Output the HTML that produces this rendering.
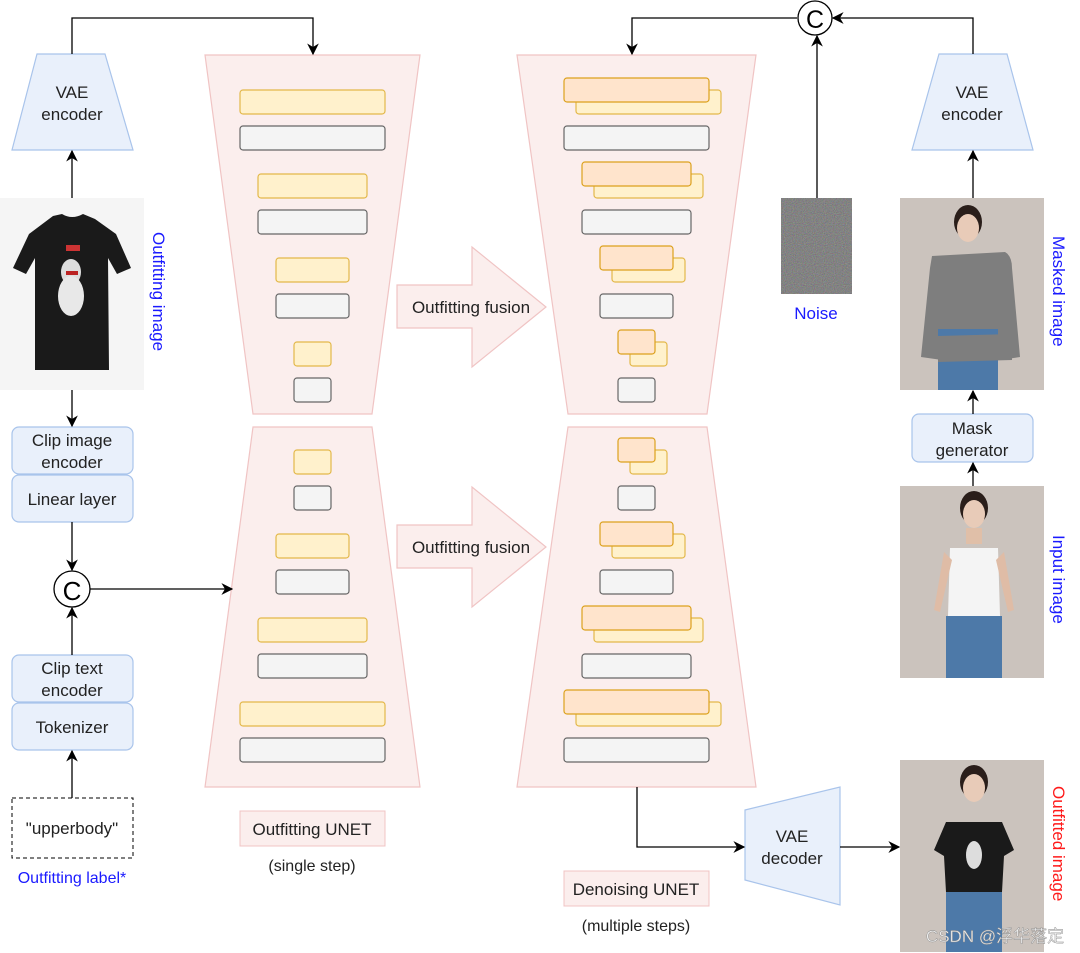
<!DOCTYPE html>
<html><head><meta charset="utf-8"><style>
html,body{margin:0;padding:0;background:#fff}
svg{display:block}
text{font-family:"Liberation Sans","Noto Sans CJK SC",sans-serif}
</style></head><body>
<svg width="1080" height="953" viewBox="0 0 1080 953" xmlns="http://www.w3.org/2000/svg">
<defs>
<marker id="a" viewBox="0 0 10 10" refX="9" refY="5" markerWidth="9" markerHeight="9" orient="auto-start-reverse"><path d="M0,0 L10,5 L0,10 L3,5z" fill="#000"/></marker>
<filter id="n" x="0" y="0" width="1" height="1" color-interpolation-filters="sRGB"><feTurbulence type="fractalNoise" baseFrequency="0.9" numOctaves="2"/><feColorMatrix values="0.3 0 0 0 0.36 0 0.3 0 0 0.36 0 0 0.3 0 0.36 0 0 0 0 1"/></filter>
</defs>
<g fill="#fbeeed" stroke="#f0c4c4" stroke-width="1.2">
<path d="M205,55 L420,55 L372,414 L253,414 Z"/>
<path d="M253,427 L372,427 L420,787 L205,787 Z"/>
<path d="M517,55 L756,55 L707,414 L568,414 Z"/>
<path d="M568,427 L707,427 L756,787 L517,787 Z"/>
</g>
<g stroke-width="1.2">
<g fill="#fff1cc" stroke="#e3b84a">
<rect x="240" y="90" width="145" height="24" rx="3"/><rect x="258" y="174" width="109" height="24" rx="3"/>
<rect x="276" y="258" width="73" height="24" rx="3"/><rect x="294" y="342" width="37" height="24" rx="3"/>
<rect x="294" y="450" width="37" height="24" rx="3"/><rect x="276" y="534" width="73" height="24" rx="3"/>
<rect x="258" y="618" width="109" height="24" rx="3"/><rect x="240" y="702" width="145" height="24" rx="3"/>
<rect x="576" y="90" width="145" height="24" rx="3"/><rect x="594" y="174" width="109" height="24" rx="3"/>
<rect x="612" y="258" width="73" height="24" rx="3"/><rect x="630" y="342" width="37" height="24" rx="3"/>
<rect x="630" y="450" width="37" height="24" rx="3"/><rect x="612" y="534" width="73" height="24" rx="3"/>
<rect x="594" y="618" width="109" height="24" rx="3"/><rect x="576" y="702" width="145" height="24" rx="3"/>
</g>
<g fill="#ffe4cc" stroke="#dca11d">
<rect x="564" y="78" width="145" height="24" rx="3"/><rect x="582" y="162" width="109" height="24" rx="3"/>
<rect x="600" y="246" width="73" height="24" rx="3"/><rect x="618" y="330" width="37" height="24" rx="3"/>
<rect x="618" y="438" width="37" height="24" rx="3"/><rect x="600" y="522" width="73" height="24" rx="3"/>
<rect x="582" y="606" width="109" height="24" rx="3"/><rect x="564" y="690" width="145" height="24" rx="3"/>
</g>
<g fill="#f4f4f4" stroke="#666">
<rect x="240" y="126" width="145" height="24" rx="3"/><rect x="258" y="210" width="109" height="24" rx="3"/>
<rect x="276" y="294" width="73" height="24" rx="3"/><rect x="294" y="378" width="37" height="24" rx="3"/>
<rect x="294" y="486" width="37" height="24" rx="3"/><rect x="276" y="570" width="73" height="24" rx="3"/>
<rect x="258" y="654" width="109" height="24" rx="3"/><rect x="240" y="738" width="145" height="24" rx="3"/>
<rect x="564" y="126" width="145" height="24" rx="3"/><rect x="582" y="210" width="109" height="24" rx="3"/>
<rect x="600" y="294" width="73" height="24" rx="3"/><rect x="618" y="378" width="37" height="24" rx="3"/>
<rect x="618" y="486" width="37" height="24" rx="3"/><rect x="600" y="570" width="73" height="24" rx="3"/>
<rect x="582" y="654" width="109" height="24" rx="3"/><rect x="564" y="738" width="145" height="24" rx="3"/>
</g>
</g>
<g fill="#fbeeed" stroke="#f0c4c4" stroke-width="1.2">
<path d="M397,285 L472,285 L472,247 L546,307 L472,367 L472,328 L397,328 Z"/>
<path d="M397,525 L472,525 L472,487 L546,547 L472,607 L472,568 L397,568 Z"/>
</g>
<g font-size="17" fill="#222" text-anchor="middle">
<text x="471" y="313">Outfitting fusion</text>
<text x="471" y="553">Outfitting fusion</text>
</g>
<g fill="#e9f0fb" stroke="#a9c4eb" stroke-width="1.2">
<path d="M37,54 L105,54 L133,150 L12,150 Z"/>
<path d="M939,54 L1007,54 L1033,150 L912,150 Z"/>
<path d="M745,810 L840,787 L840,905 L745,880 Z"/>
<rect x="12" y="427" width="121" height="47" rx="7"/>
<rect x="12" y="475" width="121" height="47" rx="7"/>
<rect x="12" y="655" width="121" height="47" rx="7"/>
<rect x="12" y="703" width="121" height="47" rx="7"/>
<rect x="912" y="414" width="121" height="48" rx="7"/>
</g>
<rect x="12" y="798" width="121" height="60" fill="#fff" stroke="#000" stroke-dasharray="4,3"/>
<g font-size="17" fill="#222" text-anchor="middle">
<text x="72" y="98">VAE</text><text x="72" y="120">encoder</text>
<text x="972" y="98">VAE</text><text x="972" y="120">encoder</text>
<text x="792" y="842">VAE</text><text x="792" y="864">decoder</text>
<text x="72" y="446">Clip image</text><text x="72" y="468">encoder</text>
<text x="72" y="505">Linear layer</text>
<text x="72" y="674">Clip text</text><text x="72" y="696">encoder</text>
<text x="72" y="733">Tokenizer</text>
<text x="972" y="434">Mask</text><text x="972" y="456">generator</text>
<text x="72" y="834">"upperbody"</text>
</g>
<text x="72" y="883" font-size="16" fill="#1a1aff" text-anchor="middle">Outfitting label*</text>
<rect x="240" y="811" width="145" height="35" fill="#fbeeed" stroke="#f0c4c4"/>
<text x="312" y="835" font-size="17" fill="#222" text-anchor="middle">Outfitting UNET</text>
<text x="312" y="871" font-size="16" fill="#222" text-anchor="middle">(single step)</text>
<rect x="564" y="871" width="145" height="35" fill="#fbeeed" stroke="#f0c4c4"/>
<text x="636" y="895" font-size="17" fill="#222" text-anchor="middle">Denoising UNET</text>
<text x="636" y="931" font-size="16" fill="#222" text-anchor="middle">(multiple steps)</text>
<circle cx="72" cy="589" r="18" fill="#fff" stroke="#000" stroke-width="1.3"/>
<text x="72" y="600" font-size="26" text-anchor="middle">C</text>
<circle cx="815" cy="18" r="17" fill="#fff" stroke="#000" stroke-width="1.3"/>
<text x="815" y="28" font-size="25" text-anchor="middle">C</text>
<g stroke="#000" stroke-width="1.3" fill="none" marker-end="url(#a)">
<path d="M72,54 L72,18 L313,18 L313,54"/>
<path d="M72,198 L72,151"/>
<path d="M72,390 L72,426"/>
<path d="M72,522 L72,570"/>
<path d="M90,589 L232,589"/>
<path d="M72,655 L72,608"/>
<path d="M72,798 L72,751"/>
<path d="M973,54 L973,18 L833,18"/>
<path d="M797,18 L632,18 L632,54"/>
<path d="M817,198 L817,36"/>
<path d="M973,198 L973,151"/>
<path d="M973,414 L973,391"/>
<path d="M973,486 L973,463"/>
<path d="M637,787 L637,847 L744,847"/>
<path d="M840,847 L899,847"/>
</g>
<rect x="0" y="198" width="144" height="192" fill="#f5f5f5"/>
<path d="M53,216 L62,214 Q72,220 83,214 L95,219 L116,234 L131,268 L117,274 L108,258 L109,370 L35,370 L35,258 L26,274 L13,268 L29,234 Z" fill="#1a1a1a"/>
<ellipse cx="71" cy="272" rx="10" ry="13" fill="#ddd"/>
<ellipse cx="71" cy="296" rx="13" ry="20" fill="#e8e8e8"/>
<rect x="66" y="245" width="14" height="6" fill="#c33"/>
<rect x="66" y="271" width="12" height="4" fill="#b22"/>
<text x="0" y="0" font-size="17" fill="#1a1aff" transform="translate(153,232) rotate(90)">Outfitting image</text>
<rect x="781" y="198" width="71" height="96" filter="url(#n)" fill="#808080"/>
<text x="816" y="319" font-size="17" fill="#1a1aff" text-anchor="middle">Noise</text>
<rect x="900" y="198" width="144" height="192" fill="#cbc3bd"/>
<ellipse cx="968" cy="222" rx="14" ry="17" fill="#2a1e1a"/>
<ellipse cx="968" cy="228" rx="11" ry="14" fill="#e8cbb8"/>
<path d="M932,256 L1005,252 Q1012,256 1012,268 L1020,357 L1000,360 L992,330 L950,330 L942,360 L921,357 L930,268 Z" fill="#7e7e7e"/>
<rect x="938" y="329" width="60" height="61" fill="#4d79a8"/>
<path d="M938,336 L1012,334 L1012,360 L938,362 Z" fill="#7e7e7e"/>
<text x="0" y="0" font-size="17" fill="#1a1aff" transform="translate(1053,236) rotate(90)">Masked image</text>
<rect x="900" y="486" width="144" height="192" fill="#cbc3bd"/>
<ellipse cx="974" cy="508" rx="14" ry="17" fill="#2a1e1a"/>
<ellipse cx="974" cy="514" rx="11" ry="14" fill="#e8cbb8"/>
<rect x="966" y="528" width="16" height="16" fill="#e0bfa8"/>
<path d="M950,548 L998,548 L1000,616 L948,616 Z" fill="#f4f4f4"/>
<path d="M944,552 L934,610 L940,612 L952,560 Z M1004,552 L1014,610 L1008,612 L996,560 Z" fill="#dfbca6"/>
<rect x="946" y="616" width="56" height="62" fill="#4d79a8"/>
<text x="0" y="0" font-size="17" fill="#1a1aff" transform="translate(1053,535) rotate(90)">Input image</text>
<rect x="900" y="760" width="144" height="192" fill="#cbc3bd"/>
<ellipse cx="974" cy="782" rx="14" ry="17" fill="#2a1e1a"/>
<ellipse cx="974" cy="788" rx="11" ry="14" fill="#e8cbb8"/>
<path d="M946,822 L1002,822 L1014,850 L1004,856 L1002,892 L946,892 L944,856 L934,850 Z" fill="#1a1a1a"/>
<ellipse cx="974" cy="855" rx="8" ry="14" fill="#ddd"/>
<rect x="946" y="892" width="56" height="60" fill="#4d79a8"/>
<text x="0" y="0" font-size="17" fill="#ff1a1a" transform="translate(1053,786) rotate(90)">Outfitted image</text>
<text x="995" y="942" font-size="17" fill="#eeeeee" stroke="#888" stroke-width="0.4" text-anchor="middle">CSDN @浮华落定</text>
</svg>
</body></html>
